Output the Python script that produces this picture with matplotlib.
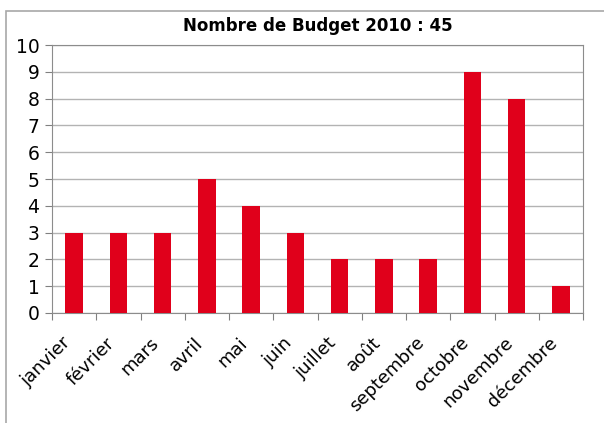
import matplotlib.pyplot as plt
from matplotlib.patches import Rectangle
from matplotlib.transforms import ScaledTranslation

mois = ["janvier", "février", "mars", "avril", "mai", "juin", "juillet",
        "août", "septembre", "octobre", "novembre", "décembre"]
nombre = [3, 3, 3, 5, 4, 3, 2, 2, 2, 9, 8, 1]
titre = "Nombre de Budget 2010 : 45"

W, H = 604, 423
fig = plt.figure(figsize=(W / 100, H / 100), dpi=100)
ax = fig.add_axes([52 / W, 1 - 313 / H, (583 - 52) / W, (313 - 45) / H])

# cadre gris autour du graphique
fig.patches.append(Rectangle((6 / W, -0.1), 1.2, 1 - 11 / H + 0.1,
                             transform=fig.transFigure, fill=False,
                             edgecolor="#a8a8a8", linewidth=1.2))

x = range(len(mois))
ax.bar(x, nombre, width=0.39, color="#e0001b", zorder=3)

ax.set_xlim(-0.5, len(mois) - 0.5)
ax.set_ylim(0, 10)
ax.set_yticks(range(11))
ax.yaxis.grid(True, color="#b3b3b3", linewidth=1, zorder=0)

ax.set_xticks([i + 0.5 for i in range(-1, len(mois))], minor=False)
ax.set_xticklabels([])
ax.set_xticks(list(x), minor=True)
ax.set_xticklabels(mois, minor=True, rotation=45, ha="right",
                   rotation_mode="anchor", fontsize=13)
ax.tick_params(axis="x", which="minor", length=0, pad=15)
ax.tick_params(axis="x", which="major", length=5, color="#808080")
ax.tick_params(axis="y", length=5, color="#808080", labelsize=13.5, pad=4)

decal = ScaledTranslation(-9 / 72, 0, fig.dpi_scale_trans)
for lab in ax.get_xticklabels(minor=True):
    lab.set_transform(lab.get_transform() + decal)

for s in ax.spines.values():
    s.set_color("#8c8c8c")

ax.set_title(titre, fontsize=12, fontweight="bold", pad=10)

fig.savefig("out.png", dpi=100)
